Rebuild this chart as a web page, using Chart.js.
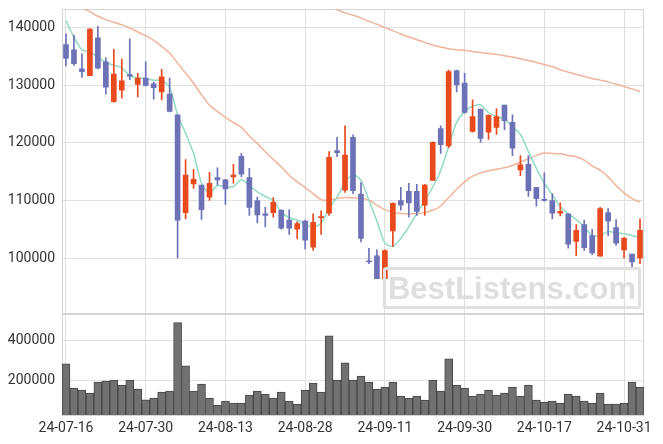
<!DOCTYPE html>
<html><head><meta charset="utf-8">
<script src="https://cdn.jsdelivr.net/npm/chart.js"></script>
<style>
html,body{margin:0;padding:0;background:#fff;}
#wrap{position:relative;width:663px;height:444px;}
#wm{position:absolute;left:383px;top:267px;width:252px;height:36px;border:3px solid #e0e0e0;border-radius:3px;color:#dedede;font:bold 31px "Liberation Sans",Arial,sans-serif;line-height:37px;text-align:center;pointer-events:none;}
</style>
</head><body>
<div id="wrap"><canvas id="c" width="663" height="444"></canvas><div id="wm">BestListens.com</div></div>
<script>
const dates = ['24-07-16','24-07-17','24-07-18','24-07-19','24-07-22','24-07-23','24-07-24','24-07-25','24-07-26','24-07-29',
'24-07-30','24-07-31','24-08-01','24-08-02','24-08-05','24-08-06','24-08-07','24-08-08','24-08-09','24-08-12',
'24-08-13','24-08-14','24-08-16','24-08-19','24-08-20','24-08-21','24-08-22','24-08-23','24-08-26','24-08-27',
'24-08-28','24-08-29','24-08-30','24-09-02','24-09-03','24-09-04','24-09-05','24-09-06','24-09-09','24-09-10',
'24-09-11','24-09-12','24-09-13','24-09-19','24-09-20','24-09-23','24-09-24','24-09-25','24-09-26','24-09-27',
'24-09-30','24-10-02','24-10-04','24-10-07','24-10-08','24-10-10','24-10-11','24-10-14','24-10-15','24-10-16',
'24-10-17','24-10-18','24-10-21','24-10-22','24-10-23','24-10-24','24-10-25','24-10-28','24-10-29','24-10-30',
'24-10-31','24-11-01','24-11-04'];
const open = [137100,136200,132900,131700,138300,134100,127200,129200,131900,130200,131300,130300,128900,128500,124900,107900,112900,112700,110600,114000,113600,114100,117700,114000,110000,107700,107900,108300,106600,105000,106400,101900,107000,107800,118700,111800,121000,111100,99500,100400,96400,104700,110000,111600,111600,109200,113500,122500,119500,132600,130400,122000,125900,121900,122700,126600,123600,115300,116300,112300,110200,110000,107800,107700,102900,105800,103900,100300,107900,105300,101400,100700,100000];
const high = [139000,138700,135500,139900,140300,134800,136300,134600,138100,132100,134100,130600,132800,131300,124900,117100,115400,112700,114900,115700,113700,116300,118200,115600,110600,108800,110500,108400,108400,106300,106600,107700,108200,118500,121000,123000,121400,113100,101700,101400,101400,109600,112300,113000,112800,112800,120200,123000,132700,132700,132100,127500,125900,124900,126000,126600,124900,117800,117800,112300,114800,111200,109600,107700,105800,106600,105000,108800,108600,106700,103600,100700,106800];
const low = [133400,133500,131400,131700,132900,128500,127100,127800,131000,128000,129900,127600,127500,125400,100000,106800,112100,106700,110000,112700,109300,113000,114100,107400,106100,105400,107100,105000,104100,103300,101600,101300,104100,107400,117600,111400,111200,102800,99000,96400,96300,102000,108300,107100,107400,107400,113500,118200,119200,128900,125200,121900,120100,120600,121500,122300,117800,114300,110700,109000,109900,106800,107300,101700,100400,101300,100600,100300,103900,102200,100000,98100,99000];
const close = [134700,133800,132400,139800,133000,129700,132000,130800,131600,131300,130000,129600,131500,125500,106600,114400,113700,108400,113000,113600,112000,114400,114600,108800,107500,107400,109700,105200,105200,106000,103100,106200,107200,117500,118300,117900,111700,103400,99300,96400,101300,109500,109200,109600,108100,112700,120100,119700,132400,130100,125300,124600,120800,124800,124600,123900,119100,116200,111700,110300,110000,107800,108100,102400,104800,101800,100900,108600,106400,102600,103400,99300,104800];
const volume = [280600,159700,149600,134500,189900,195000,200000,174800,200000,154700,100900,109300,139600,144600,487100,270500,144600,179900,109300,74100,94200,84100,84100,124400,144600,129500,109300,139600,94200,79100,149600,184900,139600,421600,200000,285600,200000,220100,189900,154700,164700,189900,119400,109300,119400,99300,200000,144600,305800,174800,159700,119400,129500,149600,124400,134500,164700,119400,174800,99300,89200,94200,84100,129500,119400,94200,84100,134500,79100,79100,84100,189900,164700];
const ma5 = [141300,138400,136200,135900,134900,134000,133500,133100,131700,131300,131200,130900,130900,129700,124900,121700,118200,113000,111300,112600,112400,112400,113600,112600,111500,110700,110000,108000,107000,106600,105900,105400,106000,108600,110600,113100,114500,113500,110000,106400,102600,102000,103400,105400,107700,110000,112300,115200,119400,123600,125500,126400,126600,125300,124600,124100,122800,121500,118500,115600,113000,111000,108900,107700,106700,105400,103900,103900,104600,104400,104200,103900,103500];
const ma20 = [null,null,143500,142850,142040,141450,140990,140580,140000,139300,138660,137850,136800,135640,133890,132150,130400,128370,126620,125460,124470,123540,122720,121210,119930,118480,117140,115860,114400,113240,112250,111210,110160,110040,110330,110510,110450,110390,110040,109170,108410,107950,107720,107720,107720,107890,108300,109050,110510,111960,113240,114230,114810,115160,115450,115690,116090,116670,117260,117840,118240,118190,118130,117840,117610,117020,116030,115280,114110,112600,111320,110330,109690];
const ma60 = [null,null,null,null,null,null,null,null,null,null,null,null,null,null,null,null,null,null,null,null,null,null,null,null,null,null,null,null,null,null,null,null,null,144010,143200,142620,142210,141750,141160,140640,140060,139540,138950,138430,137960,137500,137030,136680,136390,136220,136100,135930,135750,135580,135410,135170,134940,134650,134360,134010,133660,133250,132730,132320,131910,131570,131220,130930,130630,130230,129820,129410,128950];
const priceTicks = [100000, 110000, 120000, 130000, 140000];
const volumeTicks = [200000, 400000];

const UP = '#e8491d', DOWN = '#6d72b7';
const candleColors = close.map((c, i) => c >= open[i] ? UP : DOWN);
const bodies = open.map((o, i) => [o, close[i]]);
const wicks = low.map((l, i) => [l, high[i]]);
const TICK_EVERY = 10;

const framePlugin = {
  id: 'frame',
  beforeDatasetsDraw(chart) {
    const {ctx, chartArea: a, scales} = chart;
    ctx.save();
    ctx.strokeStyle = '#d4d4d4';
    ctx.lineWidth = 1;
    for (const id of ['y', 'yv']) {
      const s = scales[id];
      ctx.strokeRect(Math.round(a.left) + 0.5, Math.round(s.top) + 0.5,
        Math.round(a.right - a.left) - 1, Math.round(s.bottom - s.top) - 1);
    }
    ctx.restore();
  }
};
const tickFont = {family: 'Roboto', size: 14};
const fitY = s => { s.width = 62; s.paddingTop = 0; s.paddingBottom = 0; };

new Chart(document.getElementById('c'), {
  type: 'bar',
  data: {
    labels: dates,
    datasets: [
      {type: 'line', label: 'MA5', data: ma5, yAxisID: 'y', borderColor: '#90dbc2', borderWidth: 1.5, pointRadius: 0, tension: 0.25, clip: 0, order: 5},
      {type: 'line', label: 'MA20', data: ma20, yAxisID: 'y', borderColor: '#f0b49b', borderWidth: 1.5, pointRadius: 0, tension: 0.25, clip: 0, order: 5},
      {type: 'line', label: 'MA60', data: ma60, yAxisID: 'y', borderColor: '#f0b49b', borderWidth: 1.5, pointRadius: 0, tension: 0.25, clip: 0, order: 5},
      {label: 'wick', data: wicks, yAxisID: 'y', backgroundColor: candleColors, barThickness: 1, grouped: false, order: 2},
      {label: 'body', data: bodies, yAxisID: 'y', backgroundColor: candleColors, barThickness: 5, grouped: false, order: 1},
      {label: 'volume', data: volume, yAxisID: 'yv', backgroundColor: '#717171', borderColor: '#464646', borderWidth: 1, barPercentage: 1, categoryPercentage: 1, grouped: false, order: 3}
    ]
  },
  options: {
    responsive: false,
    animation: false,
    layout: {padding: {top: 9, right: 19, left: 0, bottom: 0}},
    plugins: {legend: {display: false}, tooltip: {enabled: false}},
    scales: {
      x: {
        offset: true,
        grid: {offset: false, drawTicks: false, color: c => (c.index % TICK_EVERY === 0) ? '#dedede' : 'rgba(0,0,0,0)'},
        border: {display: false},
        ticks: {autoSkip: false, maxRotation: 0, padding: 5, color: '#333', font: tickFont,
          callback: (v, i) => (i % TICK_EVERY === 0) ? dates[i] : ''},
        afterFit: s => { s.height = 29; s.paddingLeft = 0; s.paddingRight = 0; }
      },
      y: {
        position: 'left', stack: 'panels', stackWeight: 3, weight: 1,
        min: 90350, max: 143300,
        grid: {color: '#e0e0e0', drawTicks: false}, border: {display: false},
        ticks: {autoSkip: false, padding: 7, color: '#333', font: tickFont, callback: v => String(v)},
        afterBuildTicks: s => { s.ticks = priceTicks.map(v => ({value: v})); },
        afterFit: fitY
      },
      yv: {
        position: 'left', stack: 'panels', stackWeight: 1, weight: 0,
        min: 25000, max: 533000,
        grid: {color: '#e0e0e0', drawTicks: false}, border: {display: false},
        ticks: {autoSkip: false, padding: 7, color: '#333', font: tickFont, callback: v => String(v)},
        afterBuildTicks: s => { s.ticks = volumeTicks.map(v => ({value: v})); },
        afterFit: fitY
      }
    }
  },
  plugins: [framePlugin]
});
</script>
</body></html>
